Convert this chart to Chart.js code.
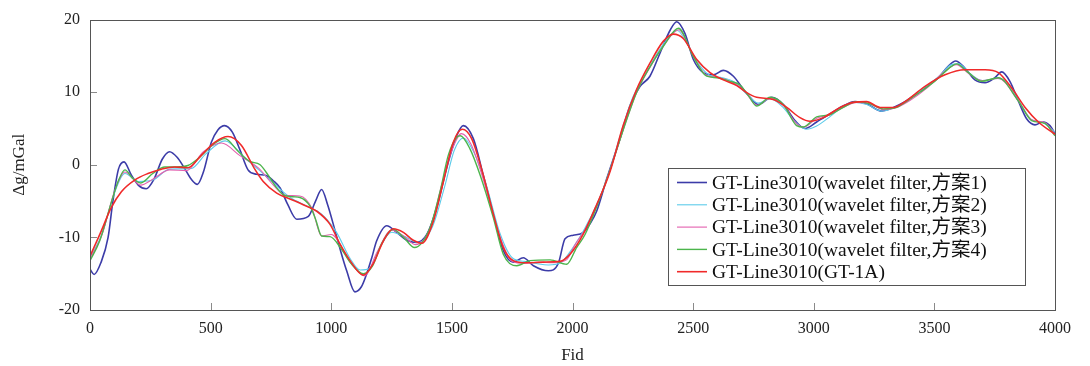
<!DOCTYPE html>
<html lang="zh">
<head>
  <meta charset="UTF-8">
  <title>GT-Line3010 Δg profile</title>
  <script src="https://cdn.jsdelivr.net/npm/chart.js"></script>
  <style>
    body {
      margin: 0;
      background: white;
    }
    canvas {
      display: block;
    }
  </style>
</head>
<body>

<canvas id="profileChart" width="1090" height="366"></canvas>

<script>
// Fid / Δg (mGal) pairs for each profile
const scheme1 = [[0,-14.4],[17,-15.1],[45,-13.5],[75,-10.0],[95,-5.0],[118,-0.6],[141,0.4],[171,-1.4],[200,-2.8],[233,-3.3],[265,-2.0],[300,0.8],[330,1.8],[362,1.0],[392,-0.5],[420,-2.0],[445,-2.7],[470,-1.0],[503,3.1],[530,4.8],[558,5.4],[590,4.5],[620,2.2],[655,-0.7],[690,-1.3],[732,-1.5],[760,-2.2],[788,-3.2],[820,-5.5],[857,-7.5],[905,-7.1],[935,-5.0],[960,-3.4],[985,-5.5],[1016,-9.1],[1040,-12.0],[1064,-14.6],[1098,-17.5],[1125,-16.8],[1147,-15.0],[1168,-12.8],[1188,-10.5],[1230,-8.4],[1271,-9.3],[1313,-10.4],[1354,-10.7],[1396,-9.6],[1437,-5.9],[1478,-0.5],[1520,4.0],[1547,5.4],[1589,3.6],[1630,-1.4],[1672,-6.8],[1713,-11.8],[1755,-13.4],[1796,-12.8],[1838,-13.9],[1900,-14.6],[1941,-13.6],[1969,-10.2],[2003,-9.7],[2045,-9.3],[2075,-8.0],[2100,-6.4],[2142,-1.9],[2197,3.6],[2238,8.1],[2280,10.8],[2321,12.2],[2363,15.4],[2404,18.5],[2432,19.7],[2466,18.1],[2501,14.5],[2542,12.7],[2584,12.4],[2625,13.0],[2667,12.2],[2708,10.4],[2736,9.3],[2770,8.3],[2826,9.3],[2874,8.3],[2922,6.1],[2964,5.0],[3012,5.9],[3067,7.0],[3122,8.1],[3171,8.7],[3219,8.4],[3282,7.4],[3330,7.9],[3378,8.7],[3406,9.3],[3461,10.6],[3516,12.0],[3558,13.6],[3588,14.3],[3627,13.3],[3668,11.7],[3710,11.3],[3751,12.0],[3779,12.8],[3813,11.5],[3848,8.8],[3883,6.3],[3917,5.5],[3951,5.9],[3979,5.4],[4000,4.3]];

const scheme2 = [[0,-12.8],[50,-9.5],[100,-4.0],[145,-1.2],[200,-2.3],[260,-2.1],[330,-0.6],[420,-0.5],[480,1.5],[560,3.3],[640,1.0],[700,-0.7],[760,-2.5],[830,-4.5],[900,-5.7],[960,-6.8],[1020,-9.2],[1080,-13.0],[1120,-14.5],[1160,-14.3],[1200,-11.5],[1250,-9.3],[1300,-9.8],[1360,-10.7],[1420,-8.5],[1470,-3.0],[1510,2.0],[1548,3.7],[1590,1.8],[1640,-2.5],[1700,-9.5],[1750,-12.8],[1800,-13.3],[1850,-13.6],[1900,-13.8],[1950,-13.5],[2000,-11.5],[2050,-8.8],[2100,-5.5],[2150,-1.3],[2200,4.3],[2250,9.3],[2300,12.3],[2350,15.3],[2400,17.6],[2435,18.5],[2470,17.0],[2520,14.0],[2570,12.3],[2620,12.0],[2670,11.4],[2720,9.8],[2770,8.5],[2820,9.1],[2870,8.0],[2920,6.0],[2970,4.9],[3010,5.3],[3070,6.7],[3120,8.0],[3170,8.6],[3220,8.3],[3280,7.4],[3330,7.8],[3380,8.6],[3450,10.4],[3520,12.2],[3570,13.8],[3600,13.9],[3650,12.5],[3700,11.6],[3760,11.9],[3800,11.4],[3850,8.8],[3900,6.3],[3950,5.8],[4000,4.5]];

const scheme3 = [[0,-13.0],[50,-9.6],[100,-3.8],[145,-1.0],[210,-2.8],[260,-2.0],[330,-0.7],[400,-0.8],[470,1.8],[545,3.0],[620,1.3],[700,-0.5],[760,-2.8],[810,-4.2],[870,-4.3],[920,-6.0],[960,-9.8],[1000,-9.6],[1080,-13.5],[1140,-15.3],[1190,-12.0],[1250,-9.0],[1300,-9.8],[1350,-11.0],[1410,-8.7],[1460,-2.5],[1500,2.0],[1540,4.3],[1580,2.8],[1630,-2.0],[1690,-9.0],[1750,-13.3],[1800,-13.6],[1860,-13.4],[1920,-13.5],[1975,-13.1],[2010,-11.0],[2060,-8.5],[2110,-4.8],[2160,-0.3],[2210,4.8],[2266,10.0],[2321,13.4],[2380,16.5],[2440,18.6],[2500,15.0],[2556,12.3],[2610,12.0],[2660,11.4],[2710,10.3],[2765,8.2],[2820,9.2],[2874,8.2],[2930,5.6],[2960,5.2],[3012,6.4],[3067,6.9],[3122,7.9],[3178,8.6],[3233,8.4],[3288,7.6],[3344,7.9],[3400,8.9],[3470,10.6],[3540,12.8],[3592,13.8],[3641,12.6],[3700,11.6],[3765,11.9],[3848,8.8],[3903,6.2],[3958,5.8],[4000,4.2]];

const scheme4 = [[0,-13.2],[40,-10.5],[90,-5.0],[120,-2.0],[145,-0.7],[175,-1.8],[210,-2.5],[260,-1.2],[310,-0.3],[360,-0.3],[406,-0.1],[460,1.2],[510,2.8],[560,3.6],[610,2.0],[660,0.5],[705,0.0],[740,-1.5],[770,-3.0],[800,-4.1],[840,-4.4],[870,-4.5],[912,-5.7],[935,-7.5],[960,-9.8],[995,-9.9],[1040,-11.5],[1080,-13.5],[1133,-15.0],[1170,-14.0],[1210,-10.8],[1257,-8.9],[1300,-10.0],[1345,-11.4],[1409,-8.7],[1451,-3.7],[1485,1.3],[1520,3.8],[1535,4.0],[1575,2.2],[1617,-1.4],[1672,-7.3],[1713,-12.3],[1769,-13.9],[1824,-13.2],[1907,-13.1],[1976,-13.7],[2017,-11.4],[2052,-9.6],[2100,-5.8],[2155,-0.8],[2210,4.8],[2266,10.0],[2321,13.5],[2380,16.5],[2439,18.8],[2501,14.9],[2556,12.2],[2598,12.0],[2653,11.5],[2694,11.0],[2730,9.5],[2763,8.1],[2819,9.3],[2874,8.3],[2929,5.4],[2957,5.2],[3012,6.6],[3067,6.9],[3122,7.9],[3178,8.7],[3233,8.4],[3288,7.7],[3344,7.9],[3378,8.6],[3440,10.0],[3502,11.5],[3572,13.6],[3592,13.9],[3641,12.7],[3696,11.5],[3765,12.0],[3848,8.8],[3903,6.1],[3958,5.7],[4000,4.0]];

const gt1a = [[0,-12.6],[47,-9.1],[88,-5.9],[130,-3.7],[185,-2.1],[240,-1.2],[296,-0.6],[351,-0.3],[406,-0.4],[461,1.3],[517,3.1],[572,3.9],[627,2.7],[683,-0.6],[718,-2.3],[774,-3.9],[829,-4.7],[884,-5.5],[940,-6.4],[995,-8.2],[1036,-10.9],[1078,-13.2],[1133,-15.2],[1174,-13.6],[1216,-10.5],[1257,-8.8],[1299,-9.3],[1340,-10.4],[1375,-10.8],[1423,-7.8],[1465,-2.3],[1506,3.1],[1543,4.9],[1582,3.6],[1630,-1.4],[1672,-6.8],[1713,-11.4],[1755,-13.2],[1810,-13.5],[1879,-13.4],[1948,-13.3],[1990,-12.3],[2045,-9.5],[2100,-5.5],[2155,-1.0],[2210,5.4],[2266,10.4],[2321,14.0],[2376,17.0],[2418,18.0],[2459,17.4],[2515,14.5],[2570,12.7],[2625,11.7],[2681,10.9],[2715,10.1],[2763,9.3],[2832,9.0],[2888,7.9],[2943,6.5],[2984,6.0],[3040,6.5],[3109,7.9],[3164,8.6],[3219,8.7],[3275,7.9],[3330,7.9],[3378,8.7],[3461,10.8],[3544,12.4],[3627,13.1],[3710,13.1],[3765,12.7],[3820,10.6],[3876,7.9],[3931,5.9],[4000,4.2]];

const seriesLabels = [
  "GT-Line3010(wavelet filter,方案1)",
  "GT-Line3010(wavelet filter,方案2)",
  "GT-Line3010(wavelet filter,方案3)",
  "GT-Line3010(wavelet filter,方案4)",
  "GT-Line3010(GT-1A)"
];
const xTicks = [0, 500, 1000, 1500, 2000, 2500, 3000, 3500, 4000];
const yTicks = [-20, -10, 0, 10, 20];

const colors = ["#3c3ca8", "#5ccbea", "#e35fae", "#4cb54c", "#f02a2a"];
const widths = [1.6, 1.1, 1.1, 1.4, 1.6];
const serif = "'Liberation Serif', 'Times New Roman', 'Noto Sans CJK SC', serif";

function toPoints(arr) {
  return arr.map(p => ({ x: p[0], y: p[1] }));
}

// frame, inward tick marks and boxed legend
const framePlugin = {
  id: "frame",
  afterDatasetsDraw(chart) {
    const ctx = chart.ctx;
    const a = chart.chartArea;
    const xs = chart.scales.x, ys = chart.scales.y;
    ctx.save();
    ctx.strokeStyle = "#8a8a8a";
    ctx.lineWidth = 1;
    xTicks.forEach(v => {
      const px = Math.round(xs.getPixelForValue(v)) + 0.5;
      ctx.beginPath();
      ctx.moveTo(px, a.bottom);
      ctx.lineTo(px, a.bottom - 7);
      ctx.stroke();
    });
    yTicks.forEach(v => {
      const py = Math.round(ys.getPixelForValue(v)) + 0.5;
      ctx.beginPath();
      ctx.moveTo(a.left, py);
      ctx.lineTo(a.left + 7, py);
      ctx.stroke();
    });
    ctx.strokeStyle = "#555";
    ctx.strokeRect(Math.round(a.left) + 0.5, Math.round(a.top) + 0.5,
      Math.round(a.right - a.left), Math.round(a.bottom - a.top));

    // legend box
    const bx = 668.5, by = 168.5, bw = 357, bh = 117;
    ctx.fillStyle = "white";
    ctx.fillRect(bx, by, bw, bh);
    ctx.strokeStyle = "#555";
    ctx.strokeRect(bx, by, bw, bh);
    ctx.font = "19.5px " + serif;
    ctx.textBaseline = "middle";
    ctx.fillStyle = "#111";
    chart.data.datasets.forEach((ds, i) => {
      const y = by + 14 + i * 22.3;
      ctx.strokeStyle = ds.borderColor;
      ctx.lineWidth = ds.borderWidth;
      ctx.beginPath();
      ctx.moveTo(677, y);
      ctx.lineTo(707, y);
      ctx.stroke();
      ctx.fillText(ds.label, 712, y + 1);
    });
    ctx.restore();
  }
};

const allSeries = [scheme1, scheme2, scheme3, scheme4, gt1a];

new Chart(document.getElementById("profileChart"), {
  type: "line",
  data: {
    datasets: allSeries.map((s, i) => ({
      label: seriesLabels[i],
      data: toPoints(s),
      borderColor: colors[i],
      borderWidth: widths[i],
      pointRadius: 0,
      fill: false,
      cubicInterpolationMode: "monotone",
      order: 5 - i
    }))
  },
  options: {
    responsive: false,
    animation: false,
    devicePixelRatio: 1,
    layout: { padding: { top: 16, right: 35, left: 0, bottom: 0 } },
    plugins: {
      legend: { display: false },
      tooltip: { enabled: false }
    },
    scales: {
      x: {
        type: "linear",
        min: 0,
        max: 4000,
        afterBuildTicks: s => { s.ticks = xTicks.map(v => ({ value: v })); },
        afterFit: s => { s.height = 56; },
        grid: { display: false, drawTicks: false },
        border: { display: false },
        ticks: {
          color: "#222",
          padding: 9,
          maxRotation: 0,
          font: { family: serif, size: 16 },
          callback: v => String(v)
        },
        title: {
          display: true,
          text: "Fid",
          color: "#222",
          padding: { top: 4, bottom: 0 },
          font: { family: serif, size: 17 }
        }
      },
      y: {
        min: -20,
        max: 20,
        afterBuildTicks: s => { s.ticks = yTicks.map(v => ({ value: v })); },
        afterFit: s => { s.width = 90; },
        grid: { display: false, drawTicks: false },
        border: { display: false },
        ticks: {
          color: "#222",
          padding: 10,
          font: { family: serif, size: 16 },
          callback: v => String(v)
        },
        title: {
          display: true,
          text: "Δg/mGal",
          color: "#222",
          padding: { top: 9, bottom: 0 },
          font: { family: serif, size: 17 }
        }
      }
    }
  },
  plugins: [framePlugin]
});
</script>

</body>
</html>
